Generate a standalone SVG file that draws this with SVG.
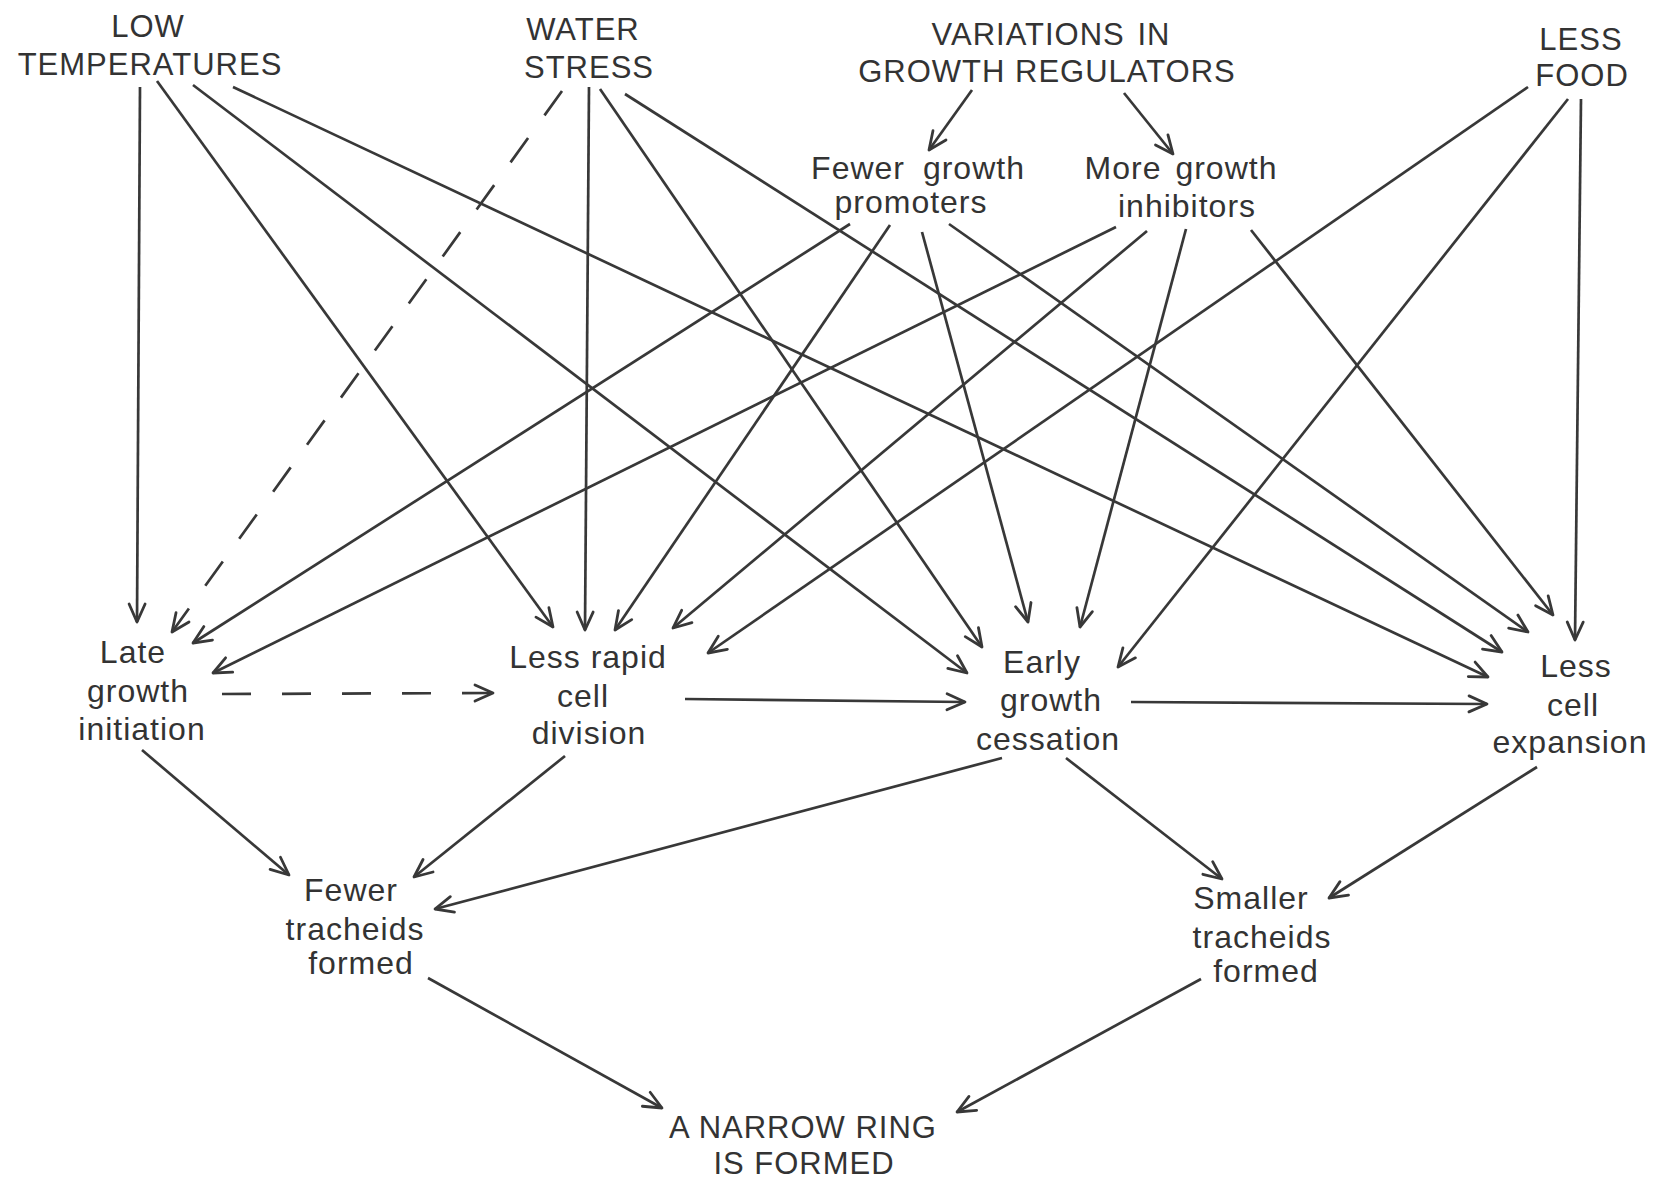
<svg xmlns="http://www.w3.org/2000/svg" width="1659" height="1180" viewBox="0 0 1659 1180">
<defs>
<style>
.t{font-family:"Liberation Sans",Arial,sans-serif;fill:#333;text-anchor:middle}
.cap{font-size:31px;letter-spacing:1px}
.low{font-size:32px;letter-spacing:1px}
.c line{stroke:#383838;stroke-width:2.7;fill:none;marker-end:url(#arr)}
.c line.d{stroke-dasharray:30 28}
.c line.dh{stroke-dasharray:29 31}
</style>
<marker id="arr" viewBox="-22 -12 26 24" refX="0" refY="0" markerWidth="26" markerHeight="24" orient="auto" markerUnits="userSpaceOnUse">
<path d="M-18,-8 L0,0 L-18,8" fill="none" stroke="#383838" stroke-width="2.8" stroke-linecap="round" stroke-linejoin="round"/>
</marker>
</defs>
<rect width="1659" height="1180" fill="#fff"/>
<g id="connectors" class="c">
<!-- Variations -->
<line x1="972" y1="90" x2="929" y2="150"/>
<line x1="1124" y1="93" x2="1173" y2="154"/>
<!-- Low temperatures -->
<line x1="140" y1="87" x2="137" y2="622"/>
<line x1="157" y1="81" x2="553" y2="627"/>
<line x1="193" y1="85" x2="967" y2="673"/>
<line x1="233" y1="87" x2="1488" y2="677"/>
<!-- Water stress -->
<line class="d" x1="562" y1="91" x2="172" y2="632"/>
<line x1="589" y1="87" x2="585" y2="630"/>
<line x1="600" y1="89" x2="982" y2="647"/>
<line x1="625" y1="94" x2="1502" y2="652"/>
<!-- Fewer growth promoters -->
<line x1="850" y1="224" x2="193" y2="643"/>
<line x1="890" y1="225" x2="615" y2="630"/>
<line x1="922" y1="232" x2="1028" y2="622"/>
<line x1="949" y1="224" x2="1528" y2="632"/>
<!-- More growth inhibitors -->
<line x1="1116" y1="227" x2="213" y2="673"/>
<line x1="1147" y1="231" x2="673" y2="628"/>
<line x1="1186" y1="229" x2="1080" y2="627"/>
<line x1="1251" y1="230" x2="1553" y2="615"/>
<!-- Less food -->
<line x1="1528" y1="87" x2="708" y2="653"/>
<line x1="1568" y1="99" x2="1118" y2="667"/>
<line x1="1581" y1="99" x2="1575" y2="640"/>
<!-- Horizontal chain -->
<line class="dh" x1="222" y1="694" x2="493" y2="693"/>
<line x1="685" y1="699" x2="965" y2="702"/>
<line x1="1131" y1="702" x2="1487" y2="704"/>
<!-- To tracheids -->
<line x1="142" y1="750" x2="289" y2="875"/>
<line x1="565" y1="756" x2="414" y2="877"/>
<line x1="1002" y1="758" x2="435" y2="909"/>
<line x1="1066" y1="758" x2="1222" y2="879"/>
<line x1="1537" y1="767" x2="1329" y2="898"/>
<!-- To narrow ring -->
<line x1="428" y1="978" x2="662" y2="1108"/>
<line x1="1201" y1="979" x2="957" y2="1112"/>
</g>
<g id="low-temperatures" class="t cap">
<text x="148" y="37">LOW</text>
<text x="150" y="75">TEMPERATURES</text>
</g>
<g id="water-stress" class="t cap">
<text x="583" y="40">WATER</text>
<text x="589" y="78">STRESS</text>
</g>
<g id="variations" class="t cap">
<text x="1051" y="45" word-spacing="3">VARIATIONS IN</text>
<text x="1047" y="82">GROWTH REGULATORS</text>
</g>
<g id="less-food" class="t cap">
<text x="1581" y="50">LESS</text>
<text x="1582" y="86">FOOD</text>
</g>
<g id="fewer-promoters" class="t low">
<text x="918" y="179" word-spacing="8">Fewer growth</text>
<text x="911" y="213">promoters</text>
</g>
<g id="more-inhibitors" class="t low">
<text x="1181" y="179" word-spacing="4">More growth</text>
<text x="1187" y="217">inhibitors</text>
</g>
<g id="late-growth" class="t low">
<text x="133" y="663">Late</text>
<text x="138" y="702">growth</text>
<text x="142" y="740">initiation</text>
</g>
<g id="less-rapid" class="t low">
<text x="588" y="668">Less rapid</text>
<text x="583" y="707">cell</text>
<text x="589" y="744">division</text>
</g>
<g id="early-cessation" class="t low">
<text x="1042" y="673">Early</text>
<text x="1051" y="711">growth</text>
<text x="1048" y="750">cessation</text>
</g>
<g id="less-expansion" class="t low">
<text x="1576" y="677">Less</text>
<text x="1573" y="716">cell</text>
<text x="1570" y="753">expansion</text>
</g>
<g id="fewer-tracheids" class="t low">
<text x="351" y="901">Fewer</text>
<text x="355" y="940">tracheids</text>
<text x="361" y="974">formed</text>
</g>
<g id="smaller-tracheids" class="t low">
<text x="1251" y="909">Smaller</text>
<text x="1262" y="948">tracheids</text>
<text x="1266" y="982">formed</text>
</g>
<g id="narrow-ring" class="t cap">
<text x="803" y="1138">A NARROW RING</text>
<text x="804" y="1174">IS FORMED</text>
</g>
</svg>
